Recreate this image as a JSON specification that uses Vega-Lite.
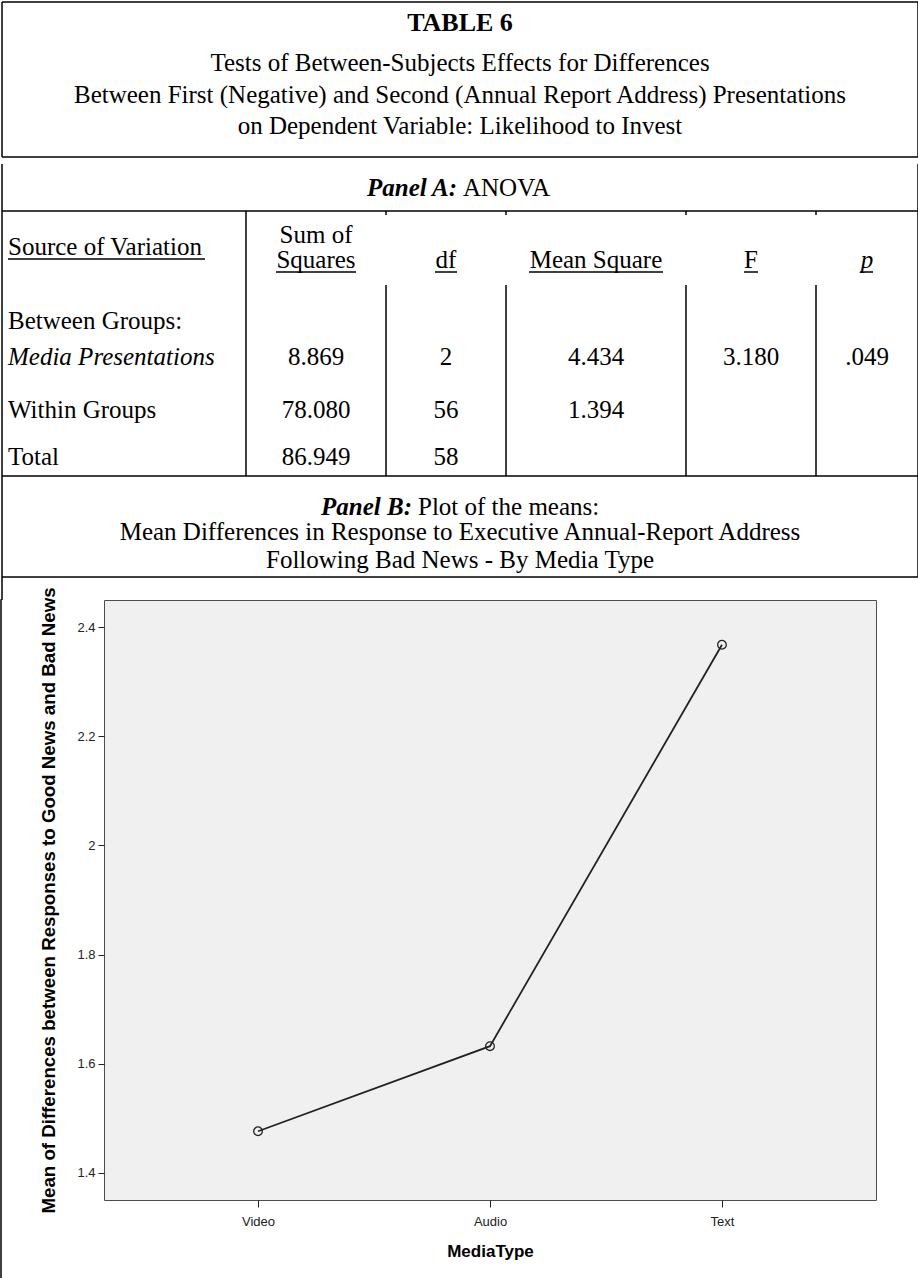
{
  "$schema": "https://vega.github.io/schema/vega-lite/v6.json",
  "padding": 0,
  "spacing": 0,
  "bounds": "flush",
  "background": "white",
  "config": {"view": {"stroke": null}, "font": "Liberation Serif"},
  "resolve": {"scale": {"x": "independent", "y": "independent"}},
  "datasets": {
    "lines": [
      {"r": 0, "r2": 0, "c": 0, "c2": 13},
      {"r": 5, "r2": 5, "c": 0, "c2": 13},
      {"r": 0, "r2": 5, "c": 0, "c2": 0},
      {"r": 0, "r2": 5, "c": 13, "c2": 13},
      {"r": 6, "r2": 25, "c": 0, "c2": 0},
      {"r": 6, "r2": 24, "c": 13, "c2": 13},
      {"r": 8, "r2": 8, "c": 0, "c2": 13},
      {"r": 20, "r2": 20, "c": 0, "c2": 13},
      {"r": 24, "r2": 24, "c": 0, "c2": 13},
      {"r": 8, "r2": 20, "c": 2, "c2": 2},
      {"r": 8, "r2": 9, "c": 4, "c2": 4},
      {"r": 15, "r2": 20, "c": 4, "c2": 4},
      {"r": 8, "r2": 9, "c": 7, "c2": 7},
      {"r": 15, "r2": 20, "c": 7, "c2": 7},
      {"r": 8, "r2": 9, "c": 9, "c2": 9},
      {"r": 15, "r2": 20, "c": 9, "c2": 9},
      {"r": 8, "r2": 9, "c": 11, "c2": 11},
      {"r": 15, "r2": 20, "c": 11, "c2": 11}
    ],
    "titleText": [{"r": 1, "c": 6, "text": "TABLE 6"}],
    "captions": [
      {"r": 2, "c": 6, "text": "Tests of Between-Subjects Effects for Differences"},
      {"r": 3, "c": 6, "text": "Between First (Negative) and Second (Annual Report Address) Presentations"},
      {"r": 4, "c": 6, "text": "on Dependent Variable:  Likelihood to Invest"},
      {"r": 22, "c": 6, "text": "Mean Differences in Response to Executive Annual-Report Address"},
      {"r": 23, "c": 6, "text": "Following Bad News - By Media Type"}
    ],
    "panelLabels": [
      {"r": 7, "c": 6, "panel": "A", "label": "Panel A:", "rest": "ANOVA"},
      {"r": 21, "c": 6, "panel": "B", "label": "Panel B:", "rest": "Plot of the means:"}
    ],
    "headers": [
      {"r": 10, "c": 3, "text": "Sum of"},
      {"r": 13, "c": 3, "text": "Squares"},
      {"r": 13, "c": 5, "text": "df"},
      {"r": 13, "c": 8, "text": "Mean Square"},
      {"r": 13, "c": 10, "text": "F"}
    ],
    "pHeader": [{"r": 13, "c": 12, "text": "p"}],
    "sourceHeader": [{"r": 11, "c": 1, "text": "Source of Variation"}],
    "rowLabels": [
      {"r": 16, "c": 1, "text": "Between Groups:"},
      {"r": 18, "c": 1, "text": "Within Groups"},
      {"r": 19, "c": 1, "text": "Total"}
    ],
    "groupLabels": [{"r": 17, "c": 1, "text": "Media Presentations"}],
    "cells": [
      {"r": 17, "c": 3, "text": "8.869"},
      {"r": 17, "c": 5, "text": "2"},
      {"r": 17, "c": 8, "text": "4.434"},
      {"r": 17, "c": 10, "text": "3.180"},
      {"r": 17, "c": 12, "text": ".049"},
      {"r": 18, "c": 3, "text": "78.080"},
      {"r": 18, "c": 5, "text": "56"},
      {"r": 18, "c": 8, "text": "1.394"},
      {"r": 19, "c": 3, "text": "86.949"},
      {"r": 19, "c": 5, "text": "58"}
    ],
    "underlines": [
      {"r": 12, "c": 1, "header": "Source of Variation"},
      {"r": 14, "c": 3, "header": "Squares"},
      {"r": 14, "c": 5, "header": "df"},
      {"r": 14, "c": 8, "header": "Mean Square"},
      {"r": 14, "c": 10, "header": "F"},
      {"r": 14, "c": 12, "header": "p"}
    ],
    "means": [
      {"MediaType": "Video", "mean": 1.476},
      {"MediaType": "Audio", "mean": 1.632},
      {"MediaType": "Text", "mean": 2.368}
    ]
  },
  "vconcat": [
    {
      "width": 918,
      "height": 600,
      "encoding": {
        "x": {"field": "c", "type": "quantitative", "axis": null,
              "scale": {"domain": [0,1,2,3,4,5,6,7,8,9,10,11,12,13],
                        "range": [1,7,245,315,385,445,459,505,595,685,750,815,866,917],
                        "nice": false, "zero": false}},
        "y": {"field": "r", "type": "quantitative", "axis": null,
              "scale": {"domain": [0,1,2,3,4,5,6,7,8,9,10,11,12,13,14,15,16,17,18,19,20,21,22,23,24,25],
                        "range": [2,23,63,95,126,157,164,188,211,215,235,247,259,260,272,285,321,357,410,457,476,507,532,560,577,600],
                        "nice": false, "zero": false}}
      },
      "layer": [
        {"data": {"name": "lines"}, "mark": {"type": "rule", "color": "#000", "strokeWidth": 1.5},
         "encoding": {"x2": {"field": "c2"}, "y2": {"field": "r2"}}},
        {"data": {"name": "titleText"}, "mark": {"type": "text", "fontSize": 26, "fontWeight": "bold", "baseline": "middle", "align": "center", "color": "#000"},
         "encoding": {"text": {"field": "text"}}},
        {"data": {"name": "captions"}, "mark": {"type": "text", "fontSize": 25, "baseline": "middle", "align": "center", "color": "#000"},
         "encoding": {"text": {"field": "text"}}},
        {"data": {"name": "panelLabels"}, "transform": [{"filter": "datum.panel === 'A'"}],
         "mark": {"type": "text", "fontSize": 25, "fontWeight": "bold", "fontStyle": "italic", "baseline": "middle", "align": "right", "xOffset": -3, "color": "#000"},
         "encoding": {"text": {"field": "label"}}},
        {"data": {"name": "panelLabels"}, "transform": [{"filter": "datum.panel === 'A'"}],
         "mark": {"type": "text", "fontSize": 25, "baseline": "middle", "align": "left", "xOffset": 3, "color": "#000"},
         "encoding": {"text": {"field": "rest"}}},
        {"data": {"name": "panelLabels"}, "transform": [{"filter": "datum.panel === 'B'"}],
         "mark": {"type": "text", "fontSize": 25, "fontWeight": "bold", "fontStyle": "italic", "baseline": "middle", "align": "right", "xOffset": -48, "color": "#000"},
         "encoding": {"text": {"field": "label"}}},
        {"data": {"name": "panelLabels"}, "transform": [{"filter": "datum.panel === 'B'"}],
         "mark": {"type": "text", "fontSize": 25, "baseline": "middle", "align": "left", "xOffset": -42, "color": "#000"},
         "encoding": {"text": {"field": "rest"}}},
        {"data": {"name": "headers"}, "mark": {"type": "text", "fontSize": 25, "baseline": "middle", "align": "center", "color": "#000"},
         "encoding": {"text": {"field": "text"}}},
        {"data": {"name": "pHeader"}, "mark": {"type": "text", "fontSize": 25, "fontStyle": "italic", "baseline": "middle", "align": "center", "color": "#000"},
         "encoding": {"text": {"field": "text"}}},
        {"data": {"name": "sourceHeader"}, "mark": {"type": "text", "fontSize": 25, "baseline": "middle", "align": "left", "color": "#000"},
         "encoding": {"text": {"field": "text"}}},
        {"data": {"name": "rowLabels"}, "mark": {"type": "text", "fontSize": 25, "baseline": "middle", "align": "left", "color": "#000"},
         "encoding": {"text": {"field": "text"}}},
        {"data": {"name": "groupLabels"}, "mark": {"type": "text", "fontSize": 25, "fontStyle": "italic", "baseline": "middle", "align": "left", "color": "#000"},
         "encoding": {"text": {"field": "text"}}},
        {"data": {"name": "cells"}, "mark": {"type": "text", "fontSize": 25, "baseline": "middle", "align": "center", "color": "#000"},
         "encoding": {"text": {"field": "text"}}},
        {"data": {"name": "underlines"}, "transform": [{"filter": "datum.header === 'Source of Variation'"}],
         "mark": {"type": "rule", "color": "#000", "strokeWidth": 1.5, "xOffset": 0, "x2Offset": 197},
         "encoding": {"x2": {"field": "c"}}},
        {"data": {"name": "underlines"}, "transform": [{"filter": "datum.header === 'Squares'"}],
         "mark": {"type": "rule", "color": "#000", "strokeWidth": 1.5, "xOffset": -40, "x2Offset": 40},
         "encoding": {"x2": {"field": "c"}}},
        {"data": {"name": "underlines"}, "transform": [{"filter": "datum.header === 'df'"}],
         "mark": {"type": "rule", "color": "#000", "strokeWidth": 1.5, "xOffset": -11, "x2Offset": 11},
         "encoding": {"x2": {"field": "c"}}},
        {"data": {"name": "underlines"}, "transform": [{"filter": "datum.header === 'Mean Square'"}],
         "mark": {"type": "rule", "color": "#000", "strokeWidth": 1.5, "xOffset": -67, "x2Offset": 67},
         "encoding": {"x2": {"field": "c"}}},
        {"data": {"name": "underlines"}, "transform": [{"filter": "datum.header === 'F'"}],
         "mark": {"type": "rule", "color": "#000", "strokeWidth": 1.5, "xOffset": -7, "x2Offset": 7},
         "encoding": {"x2": {"field": "c"}}},
        {"data": {"name": "underlines"}, "transform": [{"filter": "datum.header === 'p'"}],
         "mark": {"type": "rule", "color": "#000", "strokeWidth": 1.5, "xOffset": -7, "x2Offset": 6},
         "encoding": {"x2": {"field": "c"}}}
      ]
    },
    {
      "spacing": 102,
      "bounds": "flush",
      "resolve": {"scale": {"x": "independent", "y": "independent"}},
      "hconcat": [
        {
          "width": 0.01,
          "height": 678,
          "view": {"stroke": "#000", "strokeWidth": 1.5},
          "data": {"values": [{}]},
          "mark": {"type": "text", "text": ""}
        },
        {
          "width": 772,
          "height": 600,
          "view": {"fill": "#f0f0f0", "stroke": "#4d4d4d", "strokeWidth": 1},
          "data": {"name": "means"},
          "encoding": {
            "x": {"field": "MediaType", "type": "nominal", "sort": ["Video", "Audio", "Text"],
                  "scale": {"type": "point", "padding": 0.664},
                  "axis": {"title": "MediaType", "labelAngle": 0, "domain": false, "grid": false,
                           "tickSize": 7, "tickColor": "#222", "tickWidth": 1,
                           "labelFont": "Liberation Sans", "labelFontSize": 13, "labelColor": "#222", "labelPadding": 8,
                           "titleFont": "Liberation Sans", "titleFontSize": 17, "titleFontWeight": "bold", "titleColor": "#000", "titlePadding": 15}},
            "y": {"field": "mean", "type": "quantitative",
                  "scale": {"domain": [1.35, 2.45], "nice": false, "zero": false},
                  "axis": {"title": "Mean of Differences between Responses to Good News and Bad News",
                           "values": [1.4, 1.6, 1.8, 2, 2.2, 2.4], "format": "~g",
                           "domain": false, "grid": false, "tickSize": 6, "tickColor": "#222", "tickWidth": 1,
                           "labelFont": "Liberation Sans", "labelFontSize": 13, "labelColor": "#222", "labelPadding": 3,
                           "minExtent": 26, "maxExtent": 26,
                           "titleFont": "Liberation Sans", "titleFontSize": 18.7, "titleFontWeight": "bold", "titleColor": "#000", "titlePadding": 20}}
          },
          "layer": [
            {"mark": {"type": "line", "color": "#222", "strokeWidth": 1.8}},
            {"mark": {"type": "point", "shape": "circle", "filled": false, "color": "#222", "size": 75, "strokeWidth": 1.3, "opacity": 1}}
          ]
        }
      ]
    }
  ]
}
